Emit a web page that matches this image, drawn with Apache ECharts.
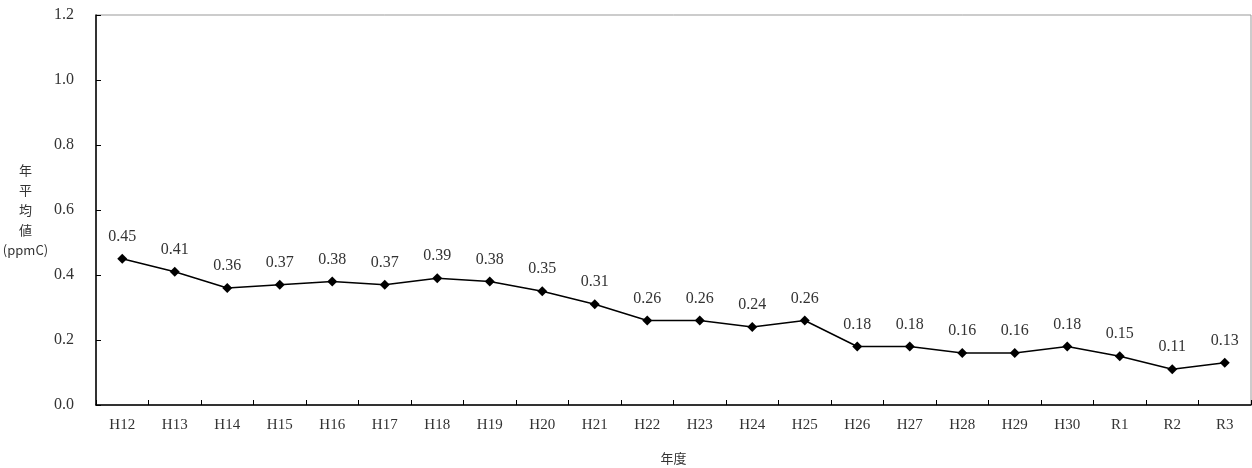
<!DOCTYPE html>
<html>
<head>
<meta charset="utf-8">
<script src="https://cdn.jsdelivr.net/npm/echarts@6/dist/echarts.min.js"></script>
<style>html,body{margin:0;padding:0;background:#fff;}#c{width:1252px;height:468px;}</style>
</head>
<body>
<div id="c"></div>
<script>
const categories = ['H12','H13','H14','H15','H16','H17','H18','H19','H20','H21','H22','H23','H24','H25','H26','H27','H28','H29','H30','R1','R2','R3'];
const values = [0.45,0.41,0.36,0.37,0.38,0.37,0.39,0.38,0.35,0.31,0.26,0.26,0.24,0.26,0.18,0.18,0.16,0.16,0.18,0.15,0.11,0.13];
const yTicks = [0,0.2,0.4,0.6,0.8,1.0,1.2];
const FONT = '"Liberation Serif", "DejaVu Serif", serif';
const chart = echarts.init(document.getElementById('c'));
chart.setOption({
  animation: false,
  grid: {left: 96, right: 1, top: 15, bottom: 63, show: true, borderColor: '#999', borderWidth: 1, containLabel: false, outerBoundsMode: 'none'},
  xAxis: {
    type: 'category', data: categories, boundaryGap: true,
    name: '年度', nameLocation: 'middle', nameGap: 47,
    nameTextStyle: {fontFamily: '"Noto Sans CJK JP"', fontSize: 13, color: '#333'},
    axisLine: {lineStyle: {color: '#000', width: 1.5}},
    axisTick: {show: true, inside: true, length: 5, alignWithLabel: false, lineStyle: {color: '#000'}},
    axisLabel: {fontFamily: FONT, fontSize: 15, color: '#333', margin: 13},
    splitLine: {show: false}
  },
  yAxis: {
    type: 'value', min: 0, max: 1.2, interval: 0.2,
    name: '年\n平\n均\n値\n(ppmC)', nameLocation: 'middle', nameGap: 66, nameRotate: 0,
    nameTextStyle: {fontFamily: '"Noto Sans CJK JP"', fontSize: 13, color: '#333', lineHeight: 20, align: 'center', padding: [6, 0, 0, 0]},
    axisLine: {show: true, lineStyle: {color: '#000', width: 1.5}},
    axisTick: {show: true, inside: true, length: 5, lineStyle: {color: '#000'}},
    axisLabel: {fontFamily: FONT, fontSize: 16, color: '#333', margin: 22, formatter: v => v.toFixed(1)},
    splitLine: {show: false}
  },
  series: [{
    type: 'line', data: values,
    symbol: 'diamond', symbolSize: 10,
    lineStyle: {color: '#000', width: 1.5},
    itemStyle: {color: '#000'},
    label: {show: true, position: 'top', distance: 9, fontFamily: FONT, fontSize: 16, color: '#333', formatter: p => p.value.toFixed(2)}
  }]
});
</script>
</body>
</html>
